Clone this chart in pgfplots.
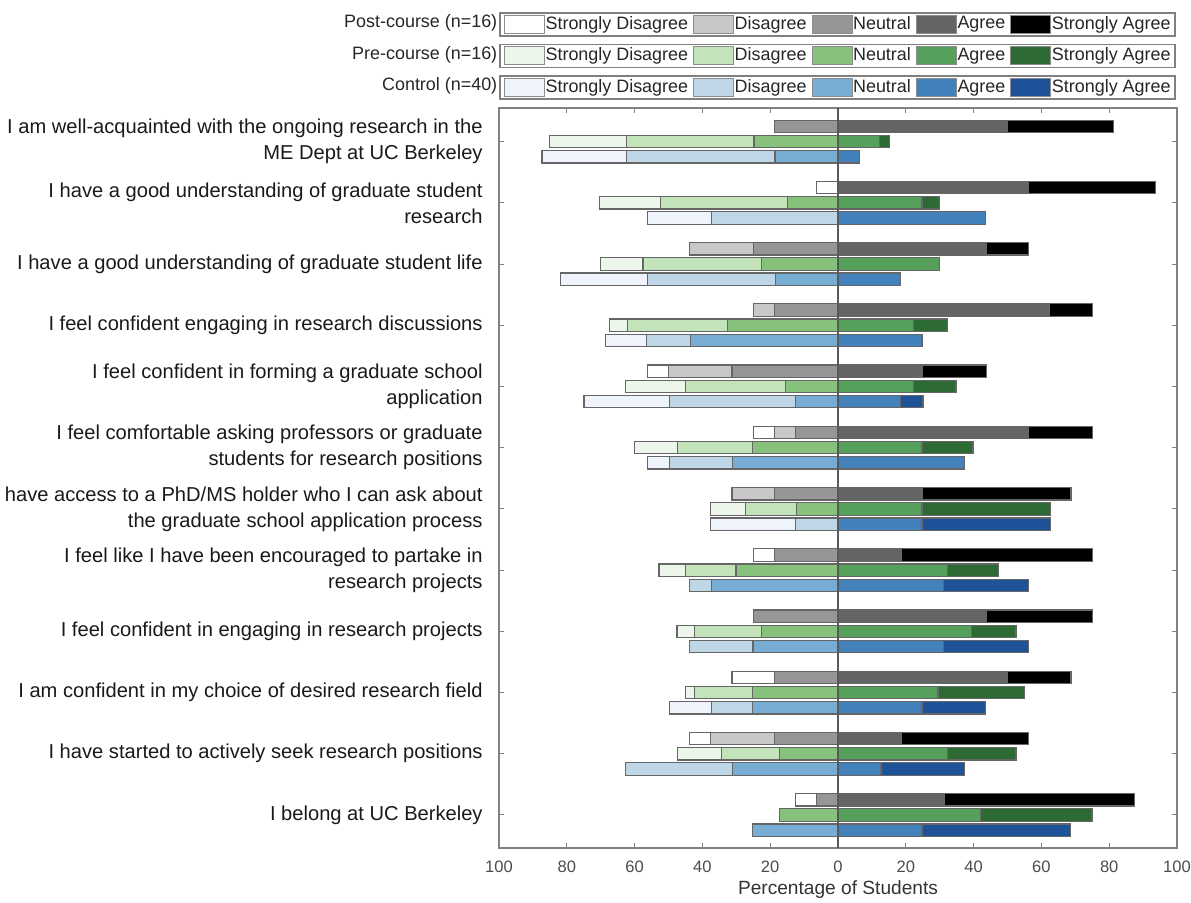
\documentclass[border=0pt]{standalone}
\usepackage{fontspec}
\setmainfont{Liberation Sans}
\usepackage{pgfplots}
\pgfplotsset{compat=1.18}
\usepackage{pgfplotstable}

% post-course greys
\definecolor{poSD}{HTML}{FFFFFF}
\definecolor{poD}{HTML}{C8C8C8}
\definecolor{poN}{HTML}{969696}
\definecolor{poA}{HTML}{646464}
\definecolor{poSA}{HTML}{000000}
% pre-course greens
\definecolor{prSD}{HTML}{EDF6EA}
\definecolor{prD}{HTML}{C3E4BA}
\definecolor{prN}{HTML}{86C27C}
\definecolor{prA}{HTML}{55A05B}
\definecolor{prSA}{HTML}{2E6B34}
% control blues
\definecolor{coSD}{HTML}{EEF3FC}
\definecolor{coD}{HTML}{BFD6E6}
\definecolor{coN}{HTML}{78ADD3}
\definecolor{coA}{HTML}{4281BC}
\definecolor{coSA}{HTML}{1F5399}

\newcommand\lfont{\fontsize{9}{10}\selectfont}
\newcommand\qfont{\fontsize{10.1}{13}\selectfont}
\newcommand\tfont{\fontsize{8.3}{10}\selectfont}
\newcommand\xfont{\fontsize{9.6}{11}\selectfont}

% percentages: strongly disagree, disagree, neutral, agree, strongly agree
\pgfplotstableread{
q sd d n a sa
1 0 0 18.75 50 31.25
2 6.25 0 0 56.25 37.5
3 0 18.75 25 43.75 12.5
4 0 6.25 18.75 62.5 12.5
5 6.25 18.75 31.25 25 18.75
6 6.25 6.25 12.5 56.25 18.75
7 0 12.5 18.75 25 43.75
8 6.25 0 18.75 18.75 56.25
9 0 0 25 43.75 31.25
10 12.5 0 18.75 50 18.75
11 6.25 18.75 18.75 18.75 37.5
12 6.25 0 6.25 31.25 56.25
}\postdata

\pgfplotstableread{
q sd d n a sa
1 22.9 37.5 24.8 12.2 3.0
2 18.0 37.6 14.8 24.8 5.2
3 12.5 34.9 22.6 29.9 0
4 5.3 29.6 32.6 22.2 10.0
5 17.6 29.6 15.4 22.2 12.6
6 12.8 22.1 25.2 24.8 15.0
7 10.2 15.1 12.3 24.8 37.8
8 7.8 14.9 30.1 32.2 15.1
9 5.1 19.8 22.6 39.4 13.1
10 2.6 17.2 25.2 29.5 25.5
11 12.9 17.1 17.3 32.2 20.3
12 0 0 17.3 42.0 32.9
}\predata

\pgfplotstableread{
q sd d n a sa
1 24.9 43.8 18.6 6.4 0
2 18.9 37.3 0 43.6 0
3 25.7 37.6 18.5 18.5 0
4 12.2 12.9 43.6 24.8 0
5 25.1 37.2 12.6 18.5 6.6
6 6.4 18.7 31.1 37.2 0
7 25.0 12.6 0 24.8 37.8
8 0 6.4 37.3 31.1 25.0
9 0 18.6 25.1 31.1 25.0
10 12.5 12.1 25.2 24.8 18.8
11 0 31.6 31.1 12.7 24.6
12 0 0 25.2 24.8 43.7
}\ctrldata

\pgfplotsset{
  seg/.style={xbar, bar width=6.2bp, draw=black!60, line width=0.6bp},
  post/.style={seg, bar shift=7.6bp},
  pre/.style={seg, bar shift=0bp},
  ctrl/.style={seg, bar shift=-7.6bp},
  legend image code/.code={\draw[#1] (0bp,-4.5bp) rectangle (20bp,4.5bp);},
  legrow/.style={at={(main.north west)}, anchor=north west,
    scale only axis, width=339bp, height=370bp,
    hide axis, clip=false, xmin=0, xmax=1, ymin=0, ymax=1,
    legend columns=5,
    legend style={anchor=north east, draw=black!50, line width=0.8bp,
      fill=white, font=\lfont, text=black!85,
      inner xsep=2bp, inner ysep=1bp, column sep=0bp,
      /tikz/every even column/.append style={column sep=2.2bp},
      nodes={inner xsep=0.3bp, inner ysep=0bp}}},
}
\tikzset{rowtitle/.style={anchor=east, inner sep=0pt, font=\lfont, text=black!85}}

\begin{document}
\begin{tikzpicture}
\begin{axis}[name=main,
  scale only axis, width=339bp, height=370bp,
  xmin=-100, xmax=100, ymin=0.46, ymax=12.55,
  xtick={-100,-80,...,100},
  xticklabels={100,80,60,40,20,0,20,40,60,80,100},
  ytick={1,...,12},
  yticklabels={
    {I belong at UC Berkeley},
    {I have started to actively seek research positions},
    {I am confident in my choice of desired research field},
    {I feel confident in engaging in research projects},
    {I feel like I have been encouraged to partake in\\research projects},
    {have access to a PhD/MS holder who I can ask about\\the graduate school application process},
    {I feel comfortable asking professors or graduate\\students for research positions},
    {I feel confident in forming a graduate school\\application},
    {I feel confident engaging in research discussions},
    {I have a good understanding of graduate student life},
    {I have a good understanding of graduate student\\research},
    {I am well-acquainted with the ongoing research in the\\ME Dept at UC Berkeley}},
  tick align=inside, major tick length=2.5bp,
  tick style={black!50, line width=0.5bp},
  axis line style={black!50, line width=0.6bp},
  xticklabel style={font=\tfont, text=black!70, anchor=center, yshift=-9.5bp},
  yticklabel style={font=\qfont, text=black!90, align=right, anchor=east, inner xsep=0pt, xshift=-8bp},
  xlabel={Percentage of Students},
  xlabel style={font=\xfont, text=black!80, at={(axis description cs:0.5,0)}, anchor=center, yshift=-21bp},
]
% post-course
\addplot[post, fill=poSD] table[x expr=-(\thisrow{n}+\thisrow{d}+\thisrow{sd}), y expr=13-\thisrow{q}] {\postdata};
\addplot[post, fill=poD] table[x expr=-(\thisrow{n}+\thisrow{d}), y expr=13-\thisrow{q}] {\postdata};
\addplot[post, fill=poN] table[x expr=-\thisrow{n}, y expr=13-\thisrow{q}] {\postdata};
\addplot[post, fill=poSA] table[x expr=\thisrow{a}+\thisrow{sa}, y expr=13-\thisrow{q}] {\postdata};
\addplot[post, fill=poA] table[x expr=\thisrow{a}, y expr=13-\thisrow{q}] {\postdata};
% pre-course
\addplot[pre, fill=prSD] table[x expr=-(\thisrow{n}+\thisrow{d}+\thisrow{sd}), y expr=13-\thisrow{q}] {\predata};
\addplot[pre, fill=prD] table[x expr=-(\thisrow{n}+\thisrow{d}), y expr=13-\thisrow{q}] {\predata};
\addplot[pre, fill=prN] table[x expr=-\thisrow{n}, y expr=13-\thisrow{q}] {\predata};
\addplot[pre, fill=prSA] table[x expr=\thisrow{a}+\thisrow{sa}, y expr=13-\thisrow{q}] {\predata};
\addplot[pre, fill=prA] table[x expr=\thisrow{a}, y expr=13-\thisrow{q}] {\predata};
% control
\addplot[ctrl, fill=coSD] table[x expr=-(\thisrow{n}+\thisrow{d}+\thisrow{sd}), y expr=13-\thisrow{q}] {\ctrldata};
\addplot[ctrl, fill=coD] table[x expr=-(\thisrow{n}+\thisrow{d}), y expr=13-\thisrow{q}] {\ctrldata};
\addplot[ctrl, fill=coN] table[x expr=-\thisrow{n}, y expr=13-\thisrow{q}] {\ctrldata};
\addplot[ctrl, fill=coSA] table[x expr=\thisrow{a}+\thisrow{sa}, y expr=13-\thisrow{q}] {\ctrldata};
\addplot[ctrl, fill=coA] table[x expr=\thisrow{a}, y expr=13-\thisrow{q}] {\ctrldata};
\draw[black!65, line width=0.7bp] (axis cs:0,0.46) -- (axis cs:0,12.55);
\end{axis}

\begin{axis}[legrow, legend style={at={(0.9985,1.1297)}}]
\addlegendimage{fill=poSD, draw=black!45, line width=0.5bp}\addlegendentry{Strongly Disagree}
\addlegendimage{fill=poD, draw=black!45, line width=0.5bp}\addlegendentry{Disagree}
\addlegendimage{fill=poN, draw=black!45, line width=0.5bp}\addlegendentry{Neutral}
\addlegendimage{fill=poA, draw=black!45, line width=0.5bp}\addlegendentry{Agree}
\addlegendimage{fill=poSA, draw=black!45, line width=0.5bp}\addlegendentry{Strongly Agree}
\node[rowtitle] at (axis description cs:-0.002,1.115) {Post-course (n=16)};
\end{axis}

\begin{axis}[legrow, legend style={at={(0.9985,1.0869)}}]
\addlegendimage{fill=prSD, draw=black!45, line width=0.5bp}\addlegendentry{Strongly Disagree}
\addlegendimage{fill=prD, draw=black!45, line width=0.5bp}\addlegendentry{Disagree}
\addlegendimage{fill=prN, draw=black!45, line width=0.5bp}\addlegendentry{Neutral}
\addlegendimage{fill=prA, draw=black!45, line width=0.5bp}\addlegendentry{Agree}
\addlegendimage{fill=prSA, draw=black!45, line width=0.5bp}\addlegendentry{Strongly Agree}
\node[rowtitle] at (axis description cs:-0.002,1.0723) {Pre-course (n=16)};
\end{axis}

\begin{axis}[legrow, legend style={at={(0.9985,1.0442)}}]
\addlegendimage{fill=coSD, draw=black!45, line width=0.5bp}\addlegendentry{Strongly Disagree}
\addlegendimage{fill=coD, draw=black!45, line width=0.5bp}\addlegendentry{Disagree}
\addlegendimage{fill=coN, draw=black!45, line width=0.5bp}\addlegendentry{Neutral}
\addlegendimage{fill=coA, draw=black!45, line width=0.5bp}\addlegendentry{Agree}
\addlegendimage{fill=coSA, draw=black!45, line width=0.5bp}\addlegendentry{Strongly Agree}
\node[rowtitle] at (axis description cs:-0.002,1.0297) {Control (n=40)};
\end{axis}

\pgfresetboundingbox
\path ([shift={(-249.5bp,-27.5bp)}]main.south west) rectangle ([shift={(7bp,54bp)}]main.north east);
\end{tikzpicture}
\end{document}
